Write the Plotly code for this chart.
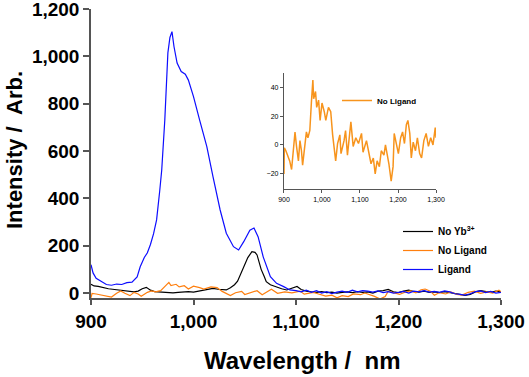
import plotly.graph_objects as go

# ---------------- data ----------------
ligand_wl = [900, 902, 905, 910, 915, 920, 925, 930, 935, 940, 945, 948, 952, 955, 958, 961, 964, 967, 969,
             972, 975, 977, 979, 981, 984, 988, 992, 995, 1000, 1006, 1013, 1019, 1026, 1032, 1039, 1044, 1049,
             1055, 1059, 1063, 1068, 1075, 1081, 1088, 1094, 1100, 1105, 1110, 1115, 1120, 1125, 1130, 1135,
             1140, 1145, 1150, 1155, 1160, 1165, 1170, 1175, 1180, 1185, 1190, 1195, 1200, 1205, 1210, 1215,
             1220, 1225, 1230, 1235, 1240, 1245, 1250, 1255, 1260, 1265, 1270, 1275, 1280, 1285, 1290, 1295, 1300]
ligand_val = [120, 85, 62, 48, 36, 33, 38, 36, 44, 46, 68, 111, 150, 170, 205, 250, 309, 430, 520,
              731, 1015, 1080, 1105, 1041, 972, 936, 925, 900, 830, 731, 619, 492, 351, 253, 196, 182, 217,
              266, 275, 238, 153, 69, 41, 27, 13, 10, 5, 12, 3, 10, 0, 6, -2, 4, 8, 3, 12, 5, 10, 8, 4, 9, 2,
              6, 0, 3, 7, 0, 8, 5, 10, 4, 7, 3, 9, 5, -3, -6, -9, -3, 6, 9, 2, 7, 0, 3]

noyb_wl = [900, 903, 907, 912, 917, 921, 925, 930, 935, 938, 942, 946, 950, 954, 958, 962, 966, 970, 975,
           980, 985, 990, 995, 1000, 1005, 1010, 1015, 1019, 1024, 1028, 1032, 1036, 1040, 1043, 1046, 1049,
           1053, 1057, 1060, 1062, 1064, 1066, 1069, 1071, 1075, 1081, 1086, 1091, 1096, 1101, 1105, 1110,
           1115, 1120, 1125, 1130, 1135, 1140, 1145, 1150, 1155, 1160, 1165, 1170, 1175, 1180, 1185, 1190,
           1195, 1200, 1205, 1210, 1215, 1220, 1225, 1230, 1235, 1240, 1245, 1250, 1255, 1260, 1265, 1270,
           1275, 1280, 1285, 1290, 1295, 1300]
noyb_val = [37, 30, 28, 22, 18, 16, 14, 10, 8, 6, 5, 8, 18, 24, 12, 6, 5, 4, 2,
            1, 3, 5, 6, 4, 8, 12, 16, 20, 16, 14, 13, 22, 35, 50, 80, 111,
            150, 175, 172, 161, 130, 100, 70, 48, 35, 24, 18, 13, 20, 28, 15, 8,
            5, 3, 6, 2, 4, 0, 3, 5, 2, 6, 3, 5, 0, 8, 10, 15,
            5, 2, 8, 12, 6, 4, 8, 3, 5, 2, 6, 2, -2, -8, -10, -6,
            5, 10, 6, 3, 8, 5]

noligand_wl = [900, 901, 905, 911, 915, 920, 925, 929, 933, 938, 942, 946, 949, 955, 959, 963, 968, 972, 976,
               978, 983, 986, 991, 995, 1000, 1006, 1010, 1017, 1023, 1028, 1032, 1036, 1041, 1047, 1050, 1058,
               1062, 1067, 1076, 1082, 1089, 1096, 1104, 1108, 1117, 1122, 1129, 1135, 1140, 1145, 1151, 1156,
               1163, 1167, 1172, 1176, 1182, 1187, 1190, 1195, 1201, 1207, 1212, 1217, 1222, 1226, 1231, 1235,
               1240, 1246, 1251, 1257, 1262, 1268, 1274, 1280, 1286, 1292, 1298, 1300]
noligand_val = [-20, -2, -4, -9, -11, -17, -1, 9, -1, -11, 3, -4, -14, 3, 9, 5, 10, 29, 45,
                32, 37, 26, 31, 17, 29, 23, 17, 26, 23, 7, -1, -11, 1, 7, -6, 3,
                10, -7, 16, -1, 5, 1, 8, -5, 3, -4, -13, -9, -20, -11, -15, -4,
                -7, 0, -6, -13, -25, -15, 8, 1, -6, 5, 9, 1, 14, 17, 8, -9,
                2, -4, 5, -6, -9, 3, 8, -1, 5, 0, 12, 5]

y_ticks = [0, 200, 400, 600, 800, 1000, 1200]
x_ticks = [900, 1000, 1100, 1200, 1300]
inset_y_ticks = [-20, 0, 20, 40]

FONT = "Arial, Liberation Sans, sans-serif"
AXIS_COL = "#555555"
W, H = 529, 377
L, R, T, B = 91, 28, 9, 79
PW, PH = W - L - R, H - T - B


def px_x(p):
    return (p - L) / PW


def px_y(p):
    return (H - B - p) / PH


fig = go.Figure()
fig.add_trace(go.Scatter(x=noyb_wl, y=noyb_val, mode="lines", name="No Yb<sup>3+</sup>",
                         line=dict(color="black", width=1.2)))
fig.add_trace(go.Scatter(x=noligand_wl, y=noligand_val, mode="lines", name="No Ligand",
                         line=dict(color="#ff7f0e", width=1.2)))
fig.add_trace(go.Scatter(x=ligand_wl, y=ligand_val, mode="lines", name="Ligand",
                         line=dict(color="#0d0dff", width=1.2)))
fig.add_trace(go.Scatter(x=noligand_wl, y=noligand_val, mode="lines", name="No Ligand",
                         line=dict(color="#f7941d", width=1.5), xaxis="x2", yaxis="y2",
                         legend="legend2"))

fig.update_layout(
    width=W, height=H,
    margin=dict(l=L, r=R, t=T, b=B),
    paper_bgcolor="white", plot_bgcolor="white",
    font=dict(family=FONT, color="black"),
    xaxis=dict(range=[900, 1300], tickvals=x_ticks, tickformat=",", showgrid=False, zeroline=False,
               showline=True, linecolor=AXIS_COL, linewidth=1.5, ticks="outside", ticklen=5,
               tickcolor=AXIS_COL, tickwidth=1.5, automargin=False, ticklabeloverflow="allow",
               tickfont=dict(size=19, weight="bold", family=FONT)),
    yaxis=dict(range=[-21, 1200.5], tickvals=y_ticks, tickformat=",", showgrid=False, zeroline=False,
               showline=True, linecolor=AXIS_COL, linewidth=1.5, ticks="outside", ticklen=6,
               tickcolor=AXIS_COL, tickwidth=1.5, automargin=False, ticklabeloverflow="allow",
               tickfont=dict(size=19, weight="bold", family=FONT)),
    xaxis2=dict(domain=[0.4707, 0.8415], anchor="y2", range=[900, 1300], tickvals=x_ticks,
                tickformat=",", showgrid=False, zeroline=False, showline=True, linecolor=AXIS_COL,
                linewidth=1.2, ticks="outside", ticklen=3, tickcolor=AXIS_COL, automargin=False,
                tickfont=dict(size=7, family=FONT)),
    yaxis2=dict(domain=[0.377, 0.7796], anchor="x2", range=[-30.5, 50], tickvals=inset_y_ticks,
                showgrid=False, zeroline=False, showline=True, linecolor=AXIS_COL, linewidth=1.2,
                ticks="outside", ticklen=3, tickcolor=AXIS_COL, automargin=False,
                tickfont=dict(size=7, family=FONT)),
    legend=dict(x=px_x(398), y=px_y(217), xanchor="left", yanchor="top",
                bgcolor="rgba(0,0,0,0)", font=dict(size=10, weight="bold", family=FONT),
                tracegroupgap=0, itemwidth=30),
    legend2=dict(x=px_x(337), y=px_y(86), xanchor="left", yanchor="top",
                 bgcolor="rgba(0,0,0,0)", font=dict(size=8, weight="bold", family=FONT)),
    annotations=[
        dict(text="Wavelength /  nm", x=px_x(302), y=px_y(360), xref="paper", yref="paper",
             showarrow=False, xanchor="center", yanchor="middle",
             font=dict(size=24, weight="bold", family=FONT)),
        dict(text="Intensity /  Arb.", x=px_x(14), y=px_y(150), xref="paper", yref="paper",
             showarrow=False, xanchor="center", yanchor="middle", textangle=-90,
             font=dict(size=22, weight="bold", family=FONT)),
    ],
)

fig.write_html("out.html", config={"displayModeBar": False},
               post_script="document.body.style.margin='0';document.body.style.overflow='hidden';")
